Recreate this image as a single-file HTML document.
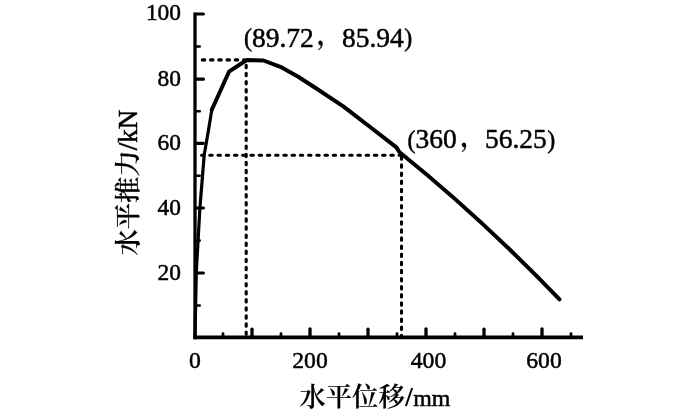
<!DOCTYPE html>
<html><head><meta charset="utf-8">
<style>
html,body{margin:0;padding:0;background:#fff;}
body{width:700px;height:420px;overflow:hidden;}
svg{display:block;}
text{font-family:"Liberation Serif","Noto Serif CJK SC",serif;fill:#000;stroke:#000;stroke-width:0.5px;}
.cj{font-family:"Noto Serif CJK SC","Liberation Serif",serif;font-weight:600;stroke-width:0.15px;}
.sl{font-weight:700;stroke-width:0.2px;}
.cm{font-family:"Noto Serif CJK SC",serif;font-weight:700;stroke-width:0.2px;}
</style></head><body>
<svg width="700" height="420" viewBox="0 0 700 420">
<rect width="700" height="420" fill="#fff"/>
<!-- axes -->
<g stroke="#000" fill="none" stroke-linecap="butt">
<path d="M195 12.4 V339.2" stroke-width="3.3"/>
<path d="M193.35 337.4 H583" stroke-width="3.6"/>
<!-- y major ticks -->
<g stroke-width="3.2" stroke-linecap="round">
<path d="M196 14 H203.4"/><path d="M196 79.2 H203.4"/><path d="M196 143.3 H203.4"/><path d="M196 208 H203.4"/><path d="M196 273 H203.4"/>
</g>
<g stroke-width="2.6" stroke-linecap="round">
<path d="M196 46.5 H199.7"/><path d="M196 111.3 H199.7"/><path d="M196 175.7 H199.7"/><path d="M196 240.5 H199.7"/><path d="M196 305.5 H199.7"/>
</g>
<!-- x major ticks -->
<g stroke-width="3.3" stroke-linecap="round">
<path d="M310 337 V328.8"/><path d="M426 337 V328.8"/><path d="M542 337 V328.8"/>
<path d="M252 337 V329.2"/><path d="M368 337 V329.2"/><path d="M484 337 V329.2"/>
</g>
<g stroke-width="2.8" stroke-linecap="round">
<path d="M223 337 V333.7"/><path d="M281 337 V333.7"/><path d="M339 337 V333.7"/><path d="M397 337 V333.7"/><path d="M455 337 V333.7"/><path d="M513 337 V333.7"/><path d="M571 337 V333.7"/>
</g>
<!-- dotted -->
<g stroke-width="3.1" stroke-linecap="round">
<path d="M202.3 59.9 H244" stroke-dasharray="2.4 5.85"/><path d="M246.2 65.3 V336" stroke-dasharray="2.4 5.68"/>
<path d="M201.57 155.3 H400" stroke-dasharray="2.4 5.83"/><path d="M401.5 156.8 V336" stroke-dasharray="2.4 5.71"/>
</g>
<!-- curve -->
<path stroke-width="3.2" stroke-linejoin="round" stroke-linecap="round" d="M195 337 L196.3 272 L199.9 208 L204.2 155 L208.5 130 L211.8 109.7"/>
<path stroke-width="4" stroke-linejoin="round" stroke-linecap="round" d="M211.8 109.7 L229 71.7 L246.7 60 L263.5 60.5 L280.4 66.8 L298.2 76.8 L316 88.2 L343.3 106.3 L371.4 128 L396.4 147.4 L399.6 152.3 Q479.55 216.5 559.5 299.3"/>
</g>
<!-- labels -->
<g font-size="24" text-anchor="end">
<text transform="translate(181 20.3) scale(0.975 1)">100</text>
<text transform="translate(181 85.5) scale(0.975 1)">80</text>
<text transform="translate(181 150) scale(0.975 1)">60</text>
<text transform="translate(181 214.8) scale(0.975 1)">40</text>
<text transform="translate(181 279.8) scale(0.975 1)">20</text>
</g>
<g font-size="24" text-anchor="middle">
<text transform="translate(195 368) scale(0.985 1)">0</text>
<text transform="translate(310 368) scale(0.985 1)">200</text>
<text transform="translate(428.5 368) scale(0.985 1)">400</text>
<text transform="translate(544 368) scale(0.985 1)">600</text>
</g>
<g transform="translate(0 46.6) scale(1 1.03)">
<text x="244" y="-0.2" font-size="24">(</text><text x="252" y="0" font-size="27.5">89.72</text><text x="317" y="-2.6" font-size="24" class="cm">，</text><text x="342" y="0" font-size="27.5">85.94</text><text x="404.2" y="-0.2" font-size="24">)</text>
</g>
<g transform="translate(0 148.3) scale(1 1.03)">
<text x="407.5" y="-0.2" font-size="24">(</text><text x="415.5" y="0" font-size="27.5">360</text><text x="460.5" y="-2.6" font-size="24" class="cm">，</text><text x="485" y="0" font-size="27.5">56.25</text><text x="547.2" y="-0.2" font-size="24">)</text>
</g>
<text x="299.5" y="405.9" font-size="23.9"><tspan class="cj" font-size="26.3">水平位移</tspan><tspan class="sl" font-size="27" dx="0.5">/</tspan><tspan dx="0.5">mm</tspan></text>
<text transform="translate(136.7 255.5) rotate(-90)" font-size="27"><tspan class="cj" font-size="26.3">水平推力</tspan><tspan class="sl" font-size="27">/</tspan>kN</text>
</svg>
</body></html>
